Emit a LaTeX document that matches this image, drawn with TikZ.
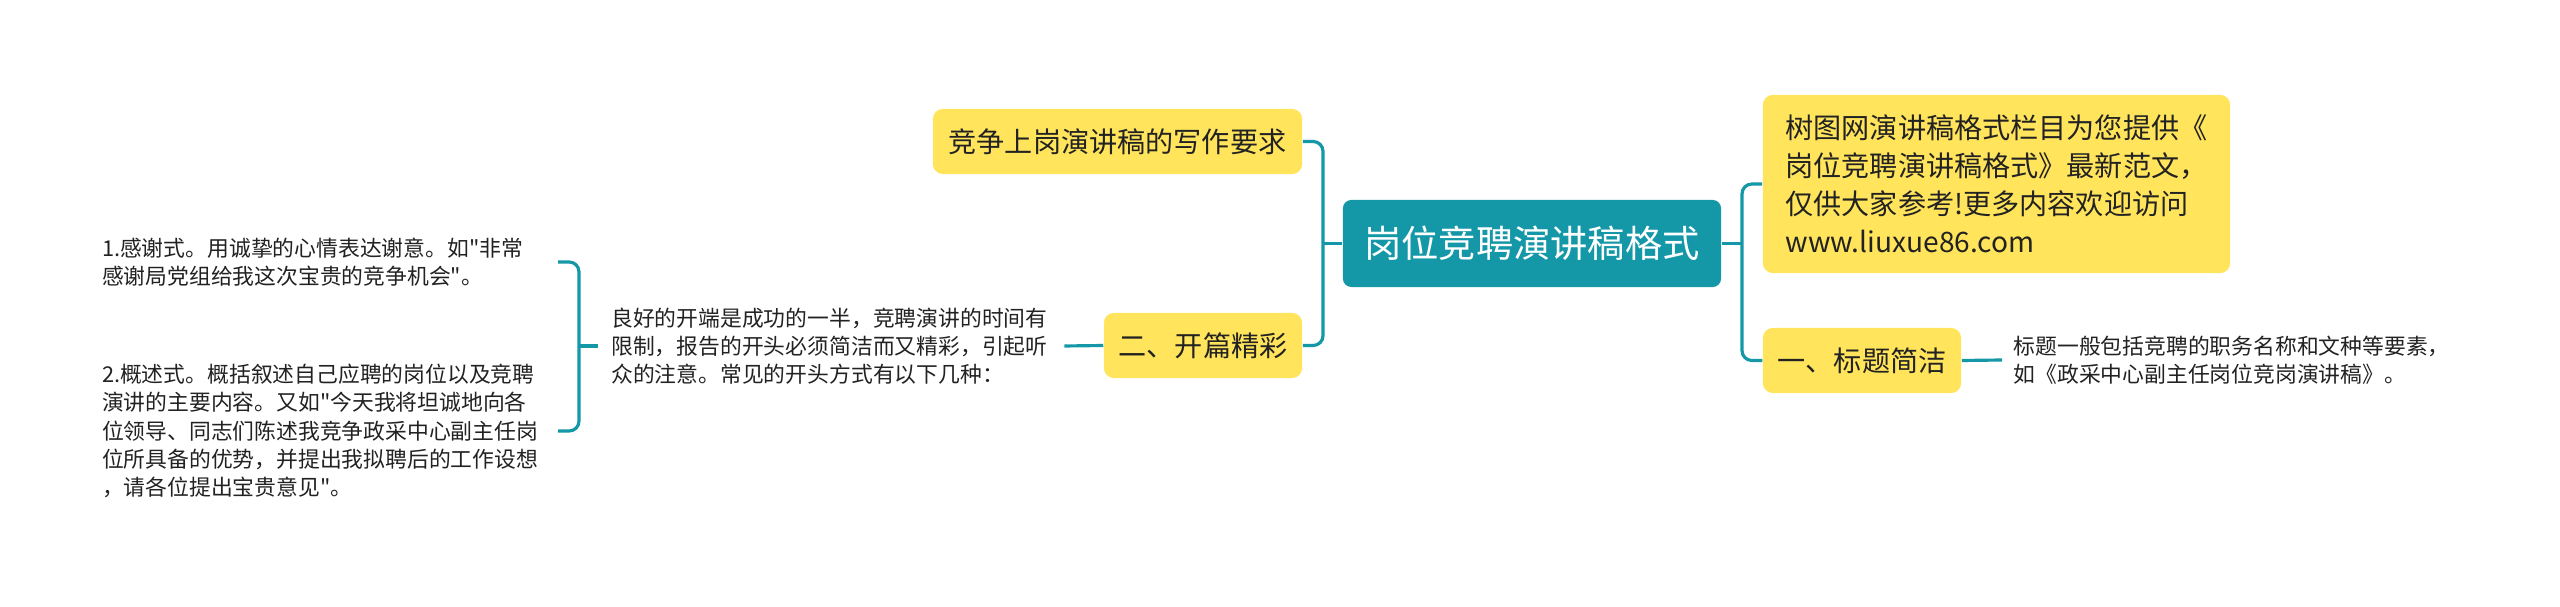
\documentclass[tikz,border=0pt]{standalone}
\usepackage{fontspec}
\setmainfont{Noto Sans CJK SC}[Ligatures=TeXOff]
\usetikzlibrary{positioning,calc}
\definecolor{MapTeal}{RGB}{20,151,167}
\definecolor{MapYellow}{RGB}{255,228,92}
\definecolor{InkGray}{RGB}{34,34,34}
\tikzset{
  rootbox/.style={fill=MapTeal,text=white,rounded corners=2.4pt,inner sep=0pt,
    font=\fontsize{10.6pt}{12pt}\selectfont},
  topic/.style={fill=MapYellow,text=InkGray,rounded corners=2.8pt,inner sep=0pt,
    font=\fontsize{8pt}{10.8pt}\selectfont},
  leaf/.style={text=InkGray,inner sep=0pt,align=left,
    font=\fontsize{6.2pt}{8.05pt}\selectfont},
  link/.style={draw=MapTeal,line width=0.9pt,rounded corners=2.8pt},
}

\begin{document}
\begin{tikzpicture}[x=0.01cm,y=-0.01cm]
    \useasboundingbox (0,0) rectangle (2560,607);
    % centre
    \node[rootbox,minimum width=3.78cm,minimum height=0.87cm] (root) at (1532,243.5) {岗位竞聘演讲稿格式};
    % left side
    \node[topic,minimum width=3.69cm,minimum height=0.65cm] (req) at (1117.5,141.5) {竞争上岗演讲稿的写作要求};
    \node[topic,minimum width=1.98cm,minimum height=0.65cm] (open) at (1203,345.5) {二、开篇精彩};
    \node[leaf,text width=4.39cm,inner xsep=3.7pt] (opennote) at (831,346)
      {良好的开端是成功的一半，竞聘演讲的时间有\\限制，报告的开头必须简洁而又精彩，引起听\\众的注意。常见的开头方式有以下几种：};
    \node[leaf,text width=4.55cm,anchor=east] (way1) at (558,262)
      {1.感谢式。用诚挚的心情表达谢意。如"非常\\感谢局党组给我这次宝贵的竞争机会"。};
    \node[leaf,text width=4.55cm,anchor=east] (way2) at (558,431)
      {2.概述式。概括叙述自己应聘的岗位以及竞聘\\演讲的主要内容。又如"今天我将坦诚地向各\\位领导、同志们陈述我竞争政采中心副主任岗\\位所具备的优势，并提出我拟聘后的工作设想\\，请各位提出宝贵意见"。};
    % right side
    \node[topic,align=left,minimum width=4.67cm,minimum height=1.78cm] (intro) at (1996.5,184)
      {树图网演讲稿格式栏目为您提供《\\岗位竞聘演讲稿格式》最新范文，\\仅供大家参考!更多内容欢迎访问\\www.liuxue86.com};
    \node[topic,minimum width=1.98cm,minimum height=0.65cm] (title) at (1862,360.5) {一、标题简洁};
    \node[leaf,anchor=west,inner xsep=3.1pt] (titlenote) at (2002,360)
      {标题一般包括竞聘的职务名称和文种等要素，\\如《政采中心副主任岗位竞岗演讲稿》。};
    % joints
    \coordinate (lj) at (1323,243.5);
    \coordinate (rj) at (1742,243.5);
    \coordinate (bj) at (579,346);
    % links
    \draw[link] (root.west) -- (lj);
    \draw[link] (req.east) -| (lj |- open.east) -- (open.east);
    \draw[link] (root.east) -- (rj);
    \draw[link] (intro.west) -| (rj |- title.west) -- (title.west);
    \draw[link] (open.west) -- (opennote.east);
    \draw[link] (opennote.west) -- (bj);
    \draw[link] (way1.east) -| (bj |- way2.east) -- (way2.east);
    \draw[link] (title.east) -- (titlenote.west);
  \end{tikzpicture}
\end{document}
